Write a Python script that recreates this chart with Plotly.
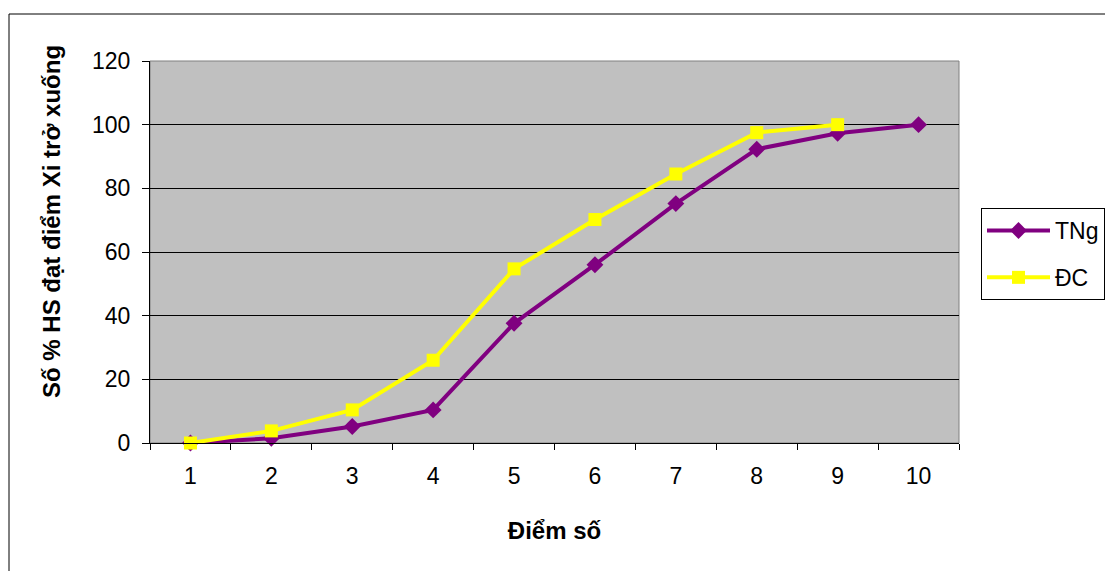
import plotly.graph_objects as go

categories = ["1", "2", "3", "4", "5", "6", "7", "8", "9", "10"]
tng_values = [0, 1.5, 5.2, 10.4, 37.6, 56, 75.2, 92.3, 97.3, 100]
dc_categories = ["1", "2", "3", "4", "5", "6", "7", "8", "9"]
dc_values = [0, 3.8, 10.4, 26, 54.7, 70.2, 84.5, 97.5, 100]
y_ticks = [0, 20, 40, 60, 80, 100, 120]

FONT = "Liberation Sans, Arial, sans-serif"

fig = go.Figure()
fig.add_trace(go.Scatter(
    x=categories, y=tng_values, name="TNg", mode="lines+markers",
    line=dict(color="#800080", width=4),
    marker=dict(symbol="diamond", size=13, color="#800080"),
    legendgroup="a", cliponaxis=False,
))
fig.add_trace(go.Scatter(
    x=dc_categories, y=dc_values, name="ĐC", mode="lines+markers",
    line=dict(color="#FFFF00", width=4),
    marker=dict(symbol="square", size=13, color="#FFFF00"),
    legendgroup="b", cliponaxis=False,
))

fig.update_layout(
    width=1105, height=571,
    margin=dict(l=150, r=146, t=61, b=128, autoexpand=False),
    paper_bgcolor="white",
    plot_bgcolor="#C0C0C0",
    font=dict(family=FONT, size=23, color="black"),
    showlegend=True,
    legend=dict(
        x=(981 - 150) / 809, xanchor="left", y=(443 - 208) / 382, yanchor="top",
        bordercolor="black", borderwidth=1, bgcolor="white",
        font=dict(size=23, family=FONT), tracegroupgap=14,
        itemwidth=63,
    ),
    xaxis=dict(
        type="category", categoryorder="array", categoryarray=categories,
        range=[-0.5, 9.5], tickson="boundaries", ticks="outside", ticklen=6,
        tickcolor="black", showline=True, linecolor="black", linewidth=1,
        showgrid=False, zeroline=False, ticklabelstandoff=12, automargin=False,
        title=dict(text="<b>Điểm số</b>", standoff=34, font=dict(size=24)),
        tickfont=dict(size=23),
    ),
    yaxis=dict(
        range=[0, 120], tickvals=y_ticks, ticks="outside", ticklen=7,
        tickcolor="black", showline=True, linecolor="black", linewidth=1,
        showgrid=True, gridcolor="black", gridwidth=1, zeroline=False,
        ticklabelstandoff=7, automargin=False,
        tickfont=dict(size=23),
    ),
    annotations=[
        dict(text="<b>Số % HS đạt điểm Xi trở xuống</b>", xref="paper", yref="paper",
             x=(51 - 150) / 809, y=(443 - 222) / 382, xanchor="center", yanchor="middle",
             textangle=-90, showarrow=False, font=dict(size=24, family=FONT)),
    ],
    shapes=[
        dict(type="rect", xref="paper", yref="paper", x0=0, x1=1, y0=0, y1=1,
             line=dict(color="#808080", width=1), fillcolor="rgba(0,0,0,0)", layer="below"),
        dict(type="rect", xref="paper", yref="paper",
             x0=(9 - 150) / 809, x1=1.3, y0=-0.5, y1=(443 - 14) / 382,
             line=dict(color="black", width=1), fillcolor="rgba(0,0,0,0)"),
    ],
)

fig.write_html("out.html")
